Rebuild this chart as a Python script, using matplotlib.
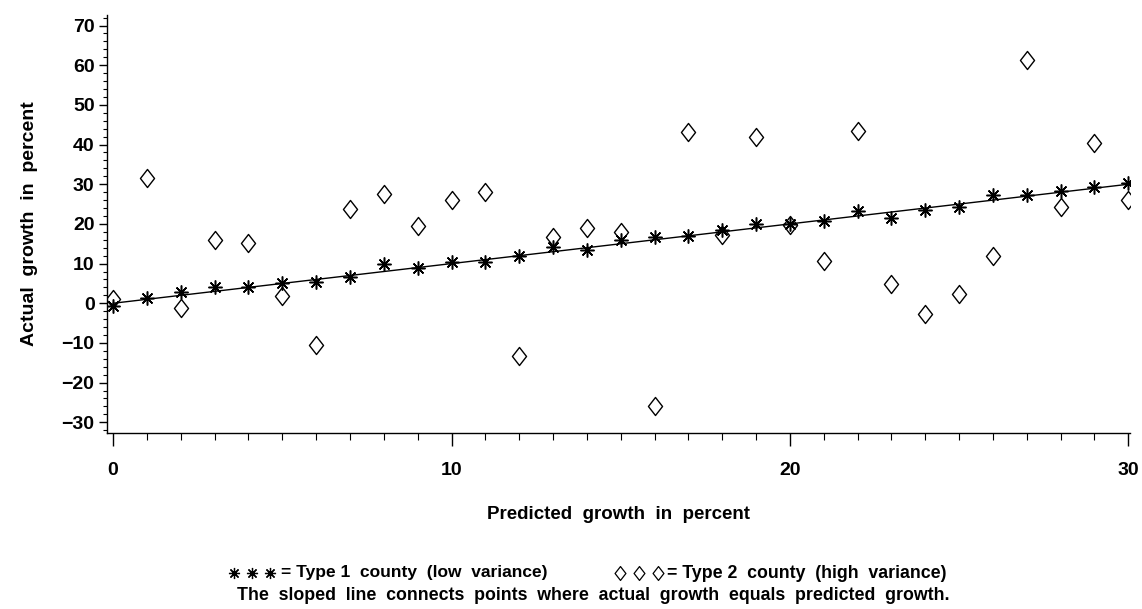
import numpy as np
import matplotlib
matplotlib.use("Agg")
import matplotlib.pyplot as plt
from matplotlib.path import Path
from matplotlib.lines import Line2D
from matplotlib.ticker import MultipleLocator

plt.rcParams['font.family'] = ['Liberation Sans', 'DejaVu Sans']
plt.rcParams['font.weight'] = 'bold'

# predicted growth (x) for both county types
predicted = list(range(0, 31))

# type 1 county (low variance) - actual growth
type1_actual = [-0.8, 1.4, 2.9, 4.0, 4.2, 5.0, 5.4, 6.7, 9.8, 8.8,
                10.3, 10.3, 11.9, 14.3, 13.4, 15.9, 16.6, 17.0, 18.5, 19.9,
                19.9, 20.7, 23.3, 21.6, 23.5, 24.2, 27.3, 27.4, 28.4, 29.4,
                30.4]

# type 2 county (high variance) - actual growth
type2_actual = [1.1, 31.6, -1.3, 15.9, 15.1, 1.9, -10.5, 23.8, 27.6, 19.5,
                26.0, 28.1, -13.4, 16.6, 19.0, 17.9, -26.0, 43.1, 17.2, 41.8,
                19.7, 10.7, 43.4, 4.9, -2.8, 2.3, 11.9, 61.3, 24.3, 40.3,
                26.0]

# line where actual == predicted
ref_line = [0, 30]

diamond = Path([(0, 1), (0.78, 0), (0, -1), (-0.78, 0), (0, 1)],
               [Path.MOVETO, Path.LINETO, Path.LINETO, Path.LINETO, Path.CLOSEPOLY])

fig = plt.figure(figsize=(11.42, 6.09), dpi=100)
ax = fig.add_axes([0.0937, 0.289, 0.8958, 0.686])

ax.plot(ref_line, ref_line, color='black', lw=1.0, zorder=2)
ax.plot(predicted, type1_actual, ls='none', marker=(8, 2, 0), ms=10,
        mec='black', mew=1.1, zorder=3)
ax.plot(predicted, type2_actual, ls='none', marker=diamond, ms=13,
        mfc='none', mec='black', mew=1.0, zorder=3)

ax.set_xlim(-0.18, 30.05)
ax.set_ylim(-32.7, 72.6)
ax.set_xticks([0, 10, 20, 30])
ax.set_yticks(range(-30, 71, 10))
ax.xaxis.set_minor_locator(MultipleLocator(1))
ax.yaxis.set_minor_locator(MultipleLocator(2))

for s in ['top', 'right']:
    ax.spines[s].set_visible(False)
for s in ['left', 'bottom']:
    ax.spines[s].set_linewidth(1.0)

ax.tick_params(axis='x', which='major', length=9, width=1.0, pad=12, labelsize=14)
ax.tick_params(axis='x', which='minor', length=5, width=0.8)
ax.tick_params(axis='y', which='major', length=6, width=1.0, pad=3, labelsize=14)
ax.tick_params(axis='y', which='minor', length=3, width=0.8)

ax.set_yticklabels(['\u221230', '\u221220', '\u221210', '0', '10', '20', '30',
                    '40', '50', '60', '70'])
for lab in ax.get_xticklabels() + ax.get_yticklabels():
    lab.set_fontweight('bold')

ax.set_xlabel('Predicted  growth  in  percent', fontsize=13.5, fontweight='bold', labelpad=19)
ax.set_ylabel('Actual  growth  in  percent', fontsize=14, fontweight='bold', labelpad=17)

# legend text under the chart
ly = 1 - 573 / 609
for px in [234, 252, 270]:
    fig.add_artist(Line2D([px / 1142], [ly], transform=fig.transFigure, ls='none',
                          marker=(8, 2, 0), ms=8, mec='black', mew=0.9))
fig.text(281 / 1142, ly, '= Type 1  county  (low  variance)', fontsize=12.5,
         fontweight='bold', va='center', ha='left')
for px in [620, 639, 658]:
    fig.add_artist(Line2D([px / 1142], [ly], transform=fig.transFigure, ls='none',
                          marker=diamond, ms=10, mfc='none', mec='black', mew=0.9))
fig.text(667 / 1142, ly, '= Type 2  county  (high  variance)', fontsize=12.8,
         fontweight='bold', va='center', ha='left')
fig.text(593 / 1142, 1 - 595 / 609,
         'The  sloped  line  connects  points  where  actual  growth  equals  predicted  growth.',
         fontsize=12.8, fontweight='bold', va='center', ha='center')

fig.savefig('out.png', dpi=100)
